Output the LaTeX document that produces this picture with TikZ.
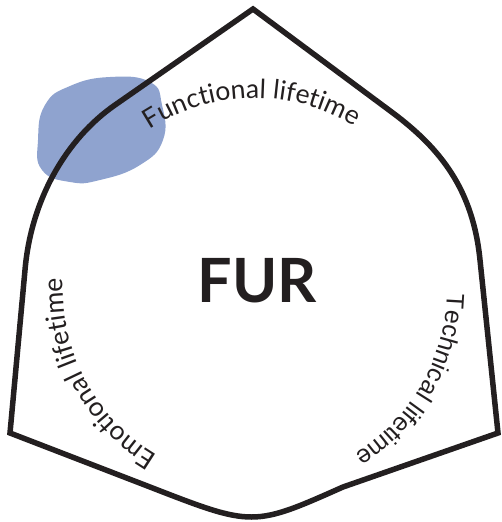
\documentclass[tikz,border=0pt]{standalone}
\usepackage{fontspec}
\usetikzlibrary{decorations.text}
\newfontfamily\labelfont{Lato}
\newfontfamily\techfont{Liberation Sans}
\newfontfamily\titlefont{Lato Bold}
\definecolor{ink}{HTML}{231F20}
\definecolor{blob}{HTML}{8FA3CF}
\begin{document}
\begin{tikzpicture}[x=1pt,y=1pt,
  outline/.style={draw=ink,line width=5.5pt,line join=miter},
  arclabel/.style={decorate,decoration={text along path,text align=center,text color=ink}}]
\useasboundingbox (0,0) rectangle (501,-522);
\coordinate (C) at (255,-290);
% blue highlight behind the outline
\fill[blob] plot[smooth cycle,tension=0.8] coordinates
  {(70,-86) (110,-77) (150,-82) (162,-105) (163,-140) (140,-165) (100,-180) (70,-182) (42,-170) (38,-140) (45,-105)};
% curved triangular outline
\coordinate (top) at (253,-9);
\coordinate (lft) at (10,-433);
\coordinate (rgt) at (498,-433);
\draw[outline] (top) -- (115,-105) .. controls (66,-139) and (31,-200) .. (25,-270)
  -- (lft) -- (150,-487) .. controls (253,-527) and (253,-527) .. (343,-487)
  -- (rgt) -- (480,-260) .. controls (473,-190) and (441,-149) .. (393,-113) -- cycle;
% centre title
\node[text=ink,font=\titlefont\fontsize{61}{61}\selectfont,inner sep=0pt] (fur) at (257,-281) {FUR};
% labels along arcs around the centre
\path[arclabel,decoration={text={|\labelfont\fontsize{26.5}{26.5}\selectfont|Functional lifetime}}]
  (C) ++(146:192) arc[start angle=146,end angle=36,radius=192];
\path[arclabel,decoration={text={|\labelfont\fontsize{26.5}{26.5}\selectfont|Emotional lifetime}}]
  (C) ++(263:192) arc[start angle=263,end angle=153,radius=192];
\path[arclabel,decoration={text={|\techfont\fontsize{25}{25}\selectfont|Technical lifetime}}]
  (C) ++(25:192) arc[start angle=25,end angle=-85,radius=192];
\end{tikzpicture}
\end{document}
